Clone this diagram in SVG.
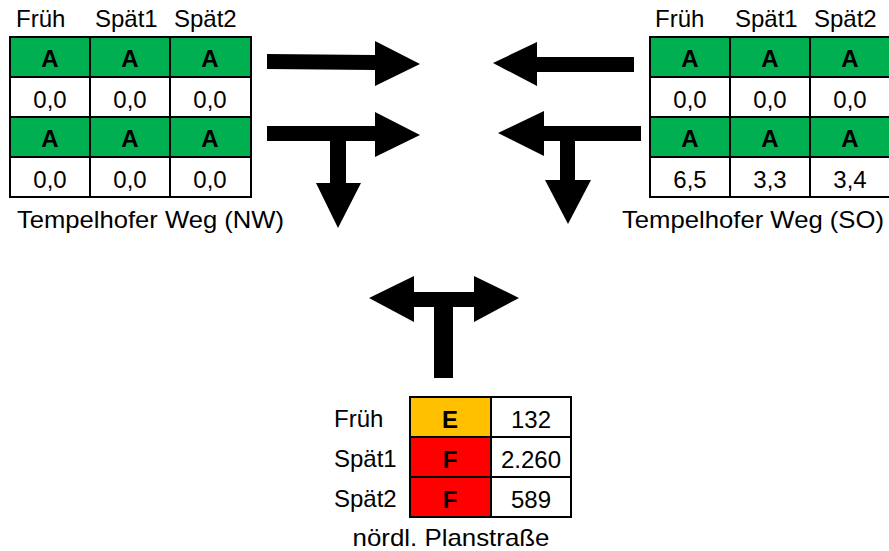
<svg xmlns="http://www.w3.org/2000/svg" width="889" height="551" viewBox="0 0 889 551">
<style>
text{font-family:"Liberation Sans",Arial,sans-serif;font-size:24px;fill:#000}
.b{font-weight:bold;font-size:24px}
.c{text-anchor:middle}
.g{fill:#00B050}
.w{fill:#fff}
.o{fill:#FFC000}
.r{fill:#FF0000}
.ln{stroke:#000;stroke-width:2;fill:none}
.arr{fill:#000}
</style>
<rect width="889" height="551" fill="#fff"/>
<g id="tw-nw">
<text x="16" y="27">Früh</text>
<text x="95" y="27">Spät1</text>
<text x="174" y="27">Spät2</text>
<rect class="g" x="10" y="37" width="241" height="40"/>
<rect class="w" x="10" y="77" width="241" height="40"/>
<rect class="g" x="10" y="117" width="241" height="40"/>
<rect class="w" x="10" y="157" width="241" height="40"/>
<path class="ln" d="M10,37H251V197H10Z M10,77H251 M10,117H251 M10,157H251 M90,37V197 M170,37V197"/>
<text class="b c" x="50" y="67">A</text><text class="b c" x="130" y="67">A</text><text class="b c" x="210" y="67">A</text>
<text class="c" x="50" y="108">0,0</text><text class="c" x="130" y="108">0,0</text><text class="c" x="210" y="108">0,0</text>
<text class="b c" x="50" y="147">A</text><text class="b c" x="130" y="147">A</text><text class="b c" x="210" y="147">A</text>
<text class="c" x="50" y="188">0,0</text><text class="c" x="130" y="188">0,0</text><text class="c" x="210" y="188">0,0</text>
<text x="17" y="228" textLength="267" lengthAdjust="spacingAndGlyphs">Tempelhofer Weg (NW)</text>
</g>
<g id="tw-so">
<text x="655" y="27">Früh</text>
<text x="735" y="27">Spät1</text>
<text x="814" y="27">Spät2</text>
<rect class="g" x="650" y="37" width="241" height="40"/>
<rect class="w" x="650" y="77" width="241" height="40"/>
<rect class="g" x="650" y="117" width="241" height="40"/>
<rect class="w" x="650" y="157" width="241" height="40"/>
<path class="ln" d="M650,37H891V197H650Z M650,77H891 M650,117H891 M650,157H891 M730,37V197 M810,37V197"/>
<text class="b c" x="690" y="67">A</text><text class="b c" x="770" y="67">A</text><text class="b c" x="850" y="67">A</text>
<text class="c" x="690" y="108">0,0</text><text class="c" x="770" y="108">0,0</text><text class="c" x="850" y="108">0,0</text>
<text class="b c" x="690" y="147">A</text><text class="b c" x="770" y="147">A</text><text class="b c" x="850" y="147">A</text>
<text class="c" x="690" y="188">6,5</text><text class="c" x="770" y="188">3,3</text><text class="c" x="850" y="188">3,4</text>
<text x="622" y="228" textLength="262" lengthAdjust="spacingAndGlyphs">Tempelhofer Weg (SO)</text>
</g>
<g id="planstrasse">
<text x="334" y="427">Früh</text>
<text x="334" y="467">Spät1</text>
<text x="334" y="507">Spät2</text>
<rect class="o" x="410" y="397" width="81" height="40"/>
<rect class="r" x="410" y="437" width="81" height="40"/>
<rect class="r" x="410" y="477" width="81" height="40"/>
<rect class="w" x="491" y="397" width="80" height="120"/>
<path class="ln" d="M410,397H571V517H410Z M410,437H571 M410,477H571 M491,397V517"/>
<text class="b c" x="450" y="428">E</text>
<text class="b c" x="450" y="468">F</text>
<text class="b c" x="450" y="508">F</text>
<text class="c" x="531" y="428">132</text>
<text class="c" x="531" y="468">2.260</text>
<text class="c" x="531" y="508">589</text>
<text class="c" x="451" y="546" textLength="197" lengthAdjust="spacingAndGlyphs">nördl. Planstraße</text>
</g>
<g id="connectors">
<polygon class="arr" points="267,54 375,55 375,41 420,64 375,86 375,70 267,69"/>
<polygon class="arr" points="634,57 537,57 537,42 493,63 537,86 537,72 634,72"/>
<polygon class="arr" points="267,126 375,126 375,112 420,135 375,157 375,141 346,141 346,183 361,183 338,228 316,183 330,183 330,141 267,141"/>
<polygon class="arr" points="641,126 544,126 544,111 498,133 544,156 544,141 575,141 575,180 591,180 568,224 545,180 560,180 560,141 641,141"/>
<polygon class="arr" points="369,298 414,276 414,292 474,292 474,276 519,298 474,322 474,307 453,307 453,378 434,378 434,307 414,307 414,322"/>
</g>
</svg>
